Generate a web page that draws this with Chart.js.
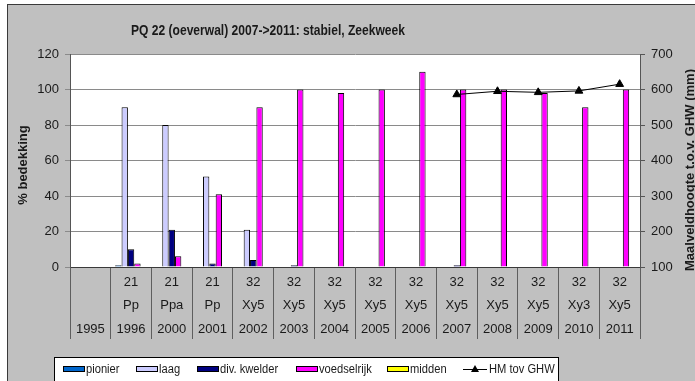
<!DOCTYPE html>
<html lang="nl">
<head>
<meta charset="UTF-8">
<title>PQ 22 (oeverwal) 2007-&gt;2011</title>
<script src="https://cdn.jsdelivr.net/npm/chart.js"></script>
<style>
  html, body { margin: 0; padding: 0; background: #fff; }
  #wrap { width: 695px; height: 381px; }
</style>
</head>
<body>
<div id="wrap"><canvas id="pq22" width="695" height="381"></canvas></div>
<script>
// opnamejaren met vegetatiecode en -type
const jaren = ['1995', '1996', '2000', '2001', '2002', '2003', '2004', '2005', '2006', '2007', '2008', '2009', '2010', '2011'];
const codes = ['', '21', '21', '21', '32', '32', '32', '32', '32', '32', '32', '32', '32', '32'];
const typen = ['', 'Pp', 'Ppa', 'Pp', 'Xy5', 'Xy5', 'Xy5', 'Xy5', 'Xy5', 'Xy5', 'Xy5', 'Xy5', 'Xy3', 'Xy5'];

// % bedekking per groep
const pionier     = [null, 1, 0, 0, 0, 0, 0, 0, 0, 0, 0, 0, 0, 0];
const laag        = [null, 90, 80, 51, 21, 0, 0, 0, 0, 0, 0, 0, 0, 0];
const divKwelder  = [null, 10, 21, 2, 4, 1, 0, 0, 0, 1, 0, 0, 0, 0];
const voedselrijk = [null, 2, 6, 41, 90, 100, 98, 100, 110, 100, 100, 98, 90, 100];
const midden      = [null, 0, 0, 0, 0, 0, 0, 0, 0, 0, 0, 0, 0, 0];

// maaiveldhoogte t.o.v. GHW (mm)
const hmTovGhw = [null, null, null, null, null, null, null, null, null, 586, 595, 592, 596, 615];

const linksTicks = { min: 0, max: 120, stap: 20 };
const rechtsTicks = { min: 100, max: 700, stap: 100 };

const FONT = "'Liberation Sans', Arial, sans-serif";
Chart.defaults.font.family = FONT;
Chart.defaults.color = '#1a1a1a';

const series = [
  { label: 'pionier', data: pionier, kleur: '#0066CC' },
  { label: 'laag', data: laag, kleur: '#CCCCFF' },
  { label: 'div. kwelder', data: divKwelder, kleur: '#000080' },
  { label: 'voedselrijk', data: voedselrijk, kleur: '#FF00FF' },
  { label: 'midden', data: midden, kleur: '#FFFF00' }
];

const datasets = series.map(s => ({
  type: 'bar',
  label: s.label,
  data: s.data,
  backgroundColor: s.kleur,
  borderColor: '#000',
  borderWidth: 1,
  categoryPercentage: 0.78,
  barPercentage: 1,
  yAxisID: 'y',
  order: 2
}));

datasets.push({
  type: 'line',
  label: 'HM tov GHW',
  data: hmTovGhw,
  borderColor: '#000',
  borderWidth: 1,
  backgroundColor: '#000',
  pointStyle: 'triangle',
  pointRadius: 4.5,
  pointBackgroundColor: '#000',
  pointBorderColor: '#000',
  yAxisID: 'y2',
  order: 1
});

// tekst horizontaal wat samendrukken, zoals in de Excel-export
function smalleTekst(ctx, tekst, x, y, schaal) {
  ctx.save();
  ctx.translate(x, y);
  ctx.scale(schaal, 1);
  ctx.fillText(tekst, 0, 0);
  ctx.restore();
}

// achtergrond, titels en legenda in Excel-stijl
const opmaak = {
  id: 'opmaak',
  beforeDraw(chart) {
    const { ctx, chartArea: a } = chart;
    ctx.save();
    ctx.fillStyle = '#fff';
    ctx.fillRect(0, 0, chart.width, chart.height);
    ctx.fillStyle = '#C0C0C0';
    ctx.fillRect(7, 4, chart.width, chart.height);
    ctx.strokeStyle = '#3a3a3a';
    ctx.lineWidth = 1;
    ctx.strokeRect(7.5, 4.5, chart.width + 10, chart.height + 10);
    ctx.fillStyle = '#fff';
    ctx.fillRect(a.left, a.top, a.right - a.left, a.bottom - a.top);
    ctx.restore();
  },
  afterDraw(chart) {
    const ctx = chart.ctx;
    ctx.save();
    ctx.fillStyle = '#1a1a1a';
    ctx.textBaseline = 'middle';

    // titel
    ctx.font = 'bold 15px ' + FONT;
    ctx.textAlign = 'center';
    const titel = 'PQ 22 (oeverwal) 2007->2011: stabiel, Zeekweek';
    const w = ctx.measureText(titel).width;
    smalleTekst(ctx, titel, 268, 31, Math.min(1, 274 / w));

    // astitels
    ctx.font = 'bold 13px ' + FONT;
    [['% bedekking', 23, 165], ['Maalveldhoogte t.o.v. GHW (mm)', 690, 170]].forEach(([t, x, y]) => {
      ctx.save();
      ctx.translate(x, y);
      ctx.rotate(-Math.PI / 2);
      ctx.fillText(t, 0, 0);
      ctx.restore();
    });

    // legenda
    ctx.fillStyle = '#fff';
    ctx.fillRect(54, 357, 504, 40);
    ctx.strokeStyle = '#000';
    ctx.lineWidth = 1;
    ctx.strokeRect(54.5, 357.5, 504, 40);

    const posities = [63, 136, 197, 296, 387, 463];
    const ly = 369;
    ctx.font = '12px ' + FONT;
    ctx.textAlign = 'left';
    chart.data.datasets.forEach((ds, i) => {
      const x = posities[i];
      if (ds.type === 'bar') {
        ctx.fillStyle = ds.backgroundColor;
        ctx.fillRect(x, ly - 3, 22, 6);
        ctx.strokeStyle = '#000';
        ctx.strokeRect(x + 0.5, ly - 2.5, 21, 5);
      } else {
        ctx.strokeStyle = '#000';
        ctx.beginPath();
        ctx.moveTo(x, ly + 0.5);
        ctx.lineTo(x + 24, ly + 0.5);
        ctx.stroke();
        ctx.fillStyle = '#000';
        ctx.beginPath();
        ctx.moveTo(x + 12, ly - 4);
        ctx.lineTo(x + 16, ly + 3);
        ctx.lineTo(x + 8, ly + 3);
        ctx.closePath();
        ctx.fill();
      }
      ctx.fillStyle = '#1a1a1a';
      smalleTekst(ctx, ds.label, x + (ds.type === 'bar' ? 23 : 26), ly + 0.5, 0.93);
    });
    ctx.restore();
  }
};

new Chart(document.getElementById('pq22'), {
  data: {
    labels: jaren.map((j, i) => [codes[i], typen[i], j]),
    datasets: datasets
  },
  options: {
    responsive: false,
    animation: false,
    layout: { padding: { top: 54, left: 0, right: 0, bottom: 0 } },
    plugins: {
      legend: { display: false },
      title: { display: false },
      tooltip: { enabled: false }
    },
    scales: {
      x: {
        offset: true,
        grid: { offset: true, drawOnChartArea: false, drawTicks: true, tickLength: 72, color: '#5e5e5e' },
        border: { color: '#3a3a3a' },
        ticks: {
          padding: -68,
          autoSkip: false,
          maxRotation: 0,
          color: '#1a1a1a',
          font: { size: 13, lineHeight: 1.79 }
        },
        afterFit(s) { s.height = 114; }
      },
      y: {
        position: 'left',
        min: linksTicks.min,
        max: linksTicks.max,
        ticks: { stepSize: linksTicks.stap, padding: 6, font: { size: 13 }, color: '#1a1a1a' },
        grid: { color: '#8a8a8a', tickLength: 5 },
        border: { color: '#555' },
        afterFit(s) { s.width = 70; }
      },
      y2: {
        position: 'right',
        min: rechtsTicks.min,
        max: rechtsTicks.max,
        ticks: { stepSize: rechtsTicks.stap, padding: 6, font: { size: 13 }, color: '#1a1a1a' },
        grid: { drawOnChartArea: false, color: '#555', tickLength: 5 },
        border: { color: '#555' },
        afterFit(s) { s.width = 55; }
      }
    }
  },
  plugins: [opmaak]
});
</script>
</body>
</html>
